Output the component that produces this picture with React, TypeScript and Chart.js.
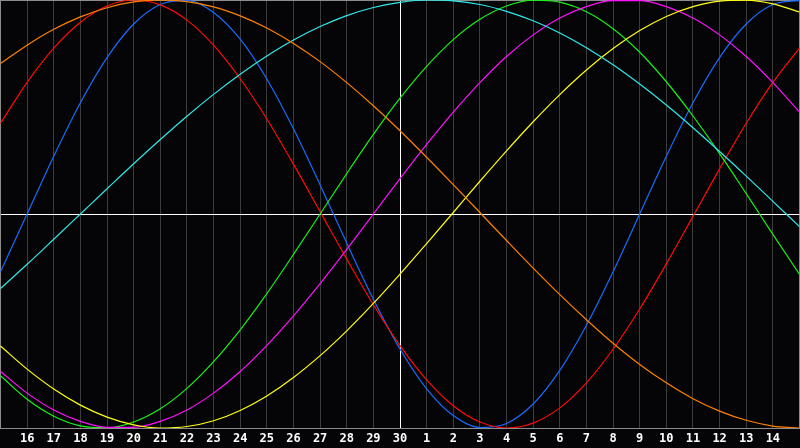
import React, { useEffect, useRef } from "react";
import { Chart, registerables } from "chart.js";

Chart.register(...registerables);

// Day labels (first and last are unlabeled edges)
const DAYS = [
  "15", "16", "17", "18", "19", "20", "21", "22", "23", "24", "25", "26", "27", "28", "29", "30",
  "1", "2", "3", "4", "5", "6", "7", "8", "9", "10", "11", "12", "13", "14", "15",
];

// Series values (percent), one per day
const RED = [42.4, 61.5, 77.5, 89.6, 97.2, 100, 97.7, 90.6, 78.9, 63.2, 44.4, 23.3, 1.1, -21.1, -42.4, -61.5, -77.5, -89.6, -97.2, -100, -97.7, -90.6, -78.9, -63.2, -44.4, -23.3, -1.1, 21.1, 42.4, 61.5, 77.5];
const BLUE = [-27.0, 0, 27.0, 52.0, 73.1, 88.8, 97.9, 99.8, 94.2, 81.7, 63.1, 39.8, 13.6, -13.6, -39.8, -63.1, -81.7, -94.2, -99.8, -97.9, -88.8, -73.1, -52.0, -27.0, 0, 27.0, 52.0, 73.1, 88.8, 97.9, 99.8];
const ORANGE = [70.3, 78.9, 86.3, 92.1, 96.4, 99.1, 100, 99.2, 96.8, 92.6, 86.9, 79.7, 71.2, 61.4, 50.6, 38.9, 26.5, 13.7, 0.7, -12.4, -25.3, -37.7, -49.4, -60.4, -70.3, -78.9, -86.3, -92.1, -96.4, -99.1, -100];
const CYAN = [-34.8, -23.5, -11.8, 0, 11.8, 23.5, 34.8, 45.7, 55.9, 65.3, 73.8, 81.3, 87.6, 92.7, 96.5, 98.9, 100, 99.6, 97.9, 94.7, 90.3, 84.6, 77.7, 69.7, 60.7, 50.9, 40.3, 29.2, 17.7, 5.9, -5.9];
const GREEN = [-75.6, -86.6, -94.5, -99.0, -99.9, -97.2, -91.0, -81.5, -69.0, -54.1, -37.2, -18.9, 0, 18.9, 37.2, 54.1, 69.0, 81.5, 91.0, 97.2, 99.9, 99.0, 94.5, 86.6, 75.6, 61.8, 45.8, 28.2, 9.5, -9.5, -28.2];
const MAGENTA = [-73.6, -83.7, -91.6, -96.9, -99.7, -99.7, -96.9, -91.6, -83.7, -73.6, -61.4, -47.6, -32.5, -16.5, 0, 16.5, 32.5, 47.6, 61.4, 73.6, 83.7, 91.6, 96.9, 99.7, 99.7, 96.9, 91.6, 83.7, 73.6, 61.4, 47.6];
const YELLOW = [-61.7, -72.5, -81.8, -89.3, -94.9, -98.5, -100, -99.3, -96.6, -91.8, -85.0, -76.4, -66.2, -54.6, -41.8, -28.1, -13.8, 0.7, 15.3, 29.5, 43.1, 55.8, 67.3, 77.3, 85.7, 92.3, 96.9, 99.5, 99.9, 98.2, 94.4];

const SERIES = [
  { name: "orange", data: ORANGE, color: "#ff8000" },
  { name: "cyan", data: CYAN, color: "#30eaea" },
  { name: "yellow", data: YELLOW, color: "#ffff10" },
  { name: "magenta", data: MAGENTA, color: "#ff10ff" },
  { name: "green", data: GREEN, color: "#18f018" },
  { name: "red", data: RED, color: "#ff0a0a" },
  { name: "blue", data: BLUE, color: "#1a6cff" },
];

const CENTER_INDEX = 15;

export default function App() {
  const canvasRef = useRef<HTMLCanvasElement | null>(null);

  useEffect(() => {
    const canvas = canvasRef.current;
    if (!canvas) return;
    const chart = new Chart(canvas, {
      type: "line",
      data: {
        labels: DAYS,
        datasets: SERIES.map((s) => ({
          label: s.name,
          data: s.data,
          borderColor: s.color,
          backgroundColor: s.color,
          borderWidth: 1.2,
          pointRadius: 0,
          pointHoverRadius: 0,
          pointBorderWidth: 0,
          cubicInterpolationMode: "monotone" as const,
          fill: false,
        })),
      },
      options: {
        animation: false,
        responsive: false,
        maintainAspectRatio: false,
        layout: { autoPadding: false, padding: { left: 0.5, right: 0.5, top: 0, bottom: 0 } },
        plugins: {
          legend: { display: false },
          tooltip: { enabled: false },
        },
        scales: {
          x: {
            type: "category",
            offset: false,
            afterFit: (scale: any) => {
              scale.paddingLeft = 0;
              scale.paddingRight = 0;
              scale.height = 20;
            },
            border: { display: true, color: "#8c8c8c", width: 1 },
            grid: {
              drawTicks: false,
              lineWidth: 1,
              color: (ctx: any) => {
                const i = ctx.index;
                if (i === CENTER_INDEX) return "#ffffff";
                if (i === 0 || i === DAYS.length - 1) return "#8c8c8c";
                return "#3c3c3c";
              },
            },
            ticks: {
              autoSkip: false,
              maxRotation: 0,
              minRotation: 0,
              padding: 4,
              color: "#ffffff",
              font: { family: "'DejaVu Sans Mono', monospace", size: 12, weight: "bold" },
              callback: (_v: any, i: number) =>
                i === 0 || i === DAYS.length - 1 ? "" : DAYS[i],
            },
          },
          y: {
            min: -100,
            max: 100,
            border: { display: true, color: "#8c8c8c", width: 1 },
            grid: {
              drawTicks: false,
              lineWidth: 1,
              color: (ctx: any) => {
                const v = ctx.tick ? ctx.tick.value : null;
                if (v === 0) return "#ffffff";
                if (v === 100 || v === -100) return "#8c8c8c";
                return "rgba(0,0,0,0)";
              },
            },
            ticks: { display: false, stepSize: 100 },
          },
        },
      },
    });
    return () => chart.destroy();
  }, []);

  return (
    <div
      style={{
        position: "fixed",
        left: 0,
        top: 0,
        width: 800,
        height: 448,
        background: "#050507",
        overflow: "hidden",
      }}
    >
      <canvas ref={canvasRef} width={800} height={448} style={{ display: "block" }} />
    </div>
  );
}
